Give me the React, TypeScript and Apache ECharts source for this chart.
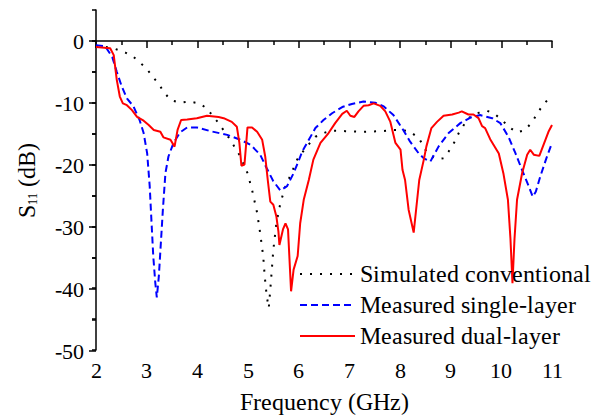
import React, { useEffect, useRef } from "react";
import * as echarts from "echarts";

const FONT = "RefSerif, Liberation Serif, DejaVu Serif, serif";
const FONT_CSS = `@font-face { font-family: "RefSerif"; src: local("Liberation Serif"), local("LiberationSerif"), local("LiberationSerif-Regular"), local("Times New Roman"), local("DejaVu Serif"), local("DejaVuSerif"); }`;

const seriesNames = ["Simulated conventional", "Measured single-layer", "Measured dual-layer"];

const simFreq = [2.0, 2.2, 2.38, 2.58, 2.74, 2.87, 3.01, 3.12, 3.24, 3.35, 3.48, 3.66, 3.85, 4.03, 4.19, 4.29, 4.42, 4.65, 4.85, 4.99, 5.08, 5.18, 5.24, 5.3, 5.33, 5.37, 5.41, 5.44, 5.47, 5.5, 5.56, 5.64, 5.74, 5.83, 5.97, 6.13, 6.33, 6.53, 6.66, 6.92, 7.25, 7.64, 7.84, 8.04, 8.2, 8.37, 8.5, 8.63, 8.76, 8.86, 8.96, 9.08, 9.16, 9.26, 9.35, 9.52, 9.72, 9.88, 10.01, 10.18, 10.31, 10.47, 10.6, 10.8, 10.95];
const simDb = [-0.8, -1.0, -1.3, -1.9, -2.6, -3.5, -4.6, -5.8, -7.0, -8.4, -9.6, -10.0, -9.8, -10.1, -10.9, -12.0, -13.3, -16.0, -18.7, -21.4, -24.1, -27.8, -31.1, -34.8, -38.1, -41.3, -43.2, -40.2, -37.0, -33.8, -29.5, -26.2, -23.5, -21.9, -19.2, -17.4, -15.5, -14.8, -14.5, -14.6, -14.7, -14.6, -14.4, -14.4, -14.7, -15.7, -17.6, -18.7, -19.1, -19.0, -17.9, -16.3, -14.9, -13.6, -12.5, -11.7, -11.3, -11.9, -12.8, -14.1, -14.8, -14.4, -13.2, -10.6, -9.2];

const singleFreq = [2.0, 2.18, 2.32, 2.41, 2.51, 2.61, 2.74, 2.86, 2.94, 3.01, 3.06, 3.09, 3.13, 3.17, 3.2, 3.24, 3.28, 3.32, 3.37, 3.43, 3.53, 3.66, 3.8, 3.99, 4.26, 4.59, 4.85, 5.05, 5.24, 5.37, 5.5, 5.64, 5.77, 5.9, 6.0, 6.07, 6.2, 6.33, 6.49, 6.66, 6.86, 7.05, 7.28, 7.51, 7.68, 7.87, 8.04, 8.2, 8.37, 8.47, 8.6, 8.76, 8.96, 9.19, 9.39, 9.58, 9.82, 9.98, 10.14, 10.28, 10.41, 10.54, 10.62, 10.68, 10.77, 10.88, 11.0];
const singleDb = [-0.7, -0.85, -2.6, -5.0, -7.4, -9.3, -10.6, -12.8, -14.9, -18.2, -23.5, -28.4, -34.8, -39.1, -41.5, -38.1, -32.7, -27.3, -21.4, -18.7, -16.5, -14.8, -14.0, -14.0, -14.6, -15.2, -16.0, -16.8, -18.4, -20.6, -22.7, -24.2, -23.5, -21.4, -19.4, -17.9, -16.0, -14.1, -12.8, -11.7, -10.7, -10.2, -9.8, -10.0, -10.6, -12.0, -14.1, -16.3, -18.2, -19.0, -19.5, -17.1, -14.9, -13.3, -12.4, -12.0, -12.5, -13.3, -15.5, -18.2, -20.9, -23.5, -25.2, -24.4, -21.9, -19.2, -16.5];

const dualFreq = [2.0, 2.28, 2.35, 2.41, 2.47, 2.53, 2.61, 2.71, 2.81, 2.94, 3.04, 3.14, 3.27, 3.33, 3.47, 3.55, 3.61, 3.68, 3.8, 3.99, 4.19, 4.42, 4.52, 4.68, 4.78, 4.83, 4.87, 4.93, 4.97, 4.99, 5.08, 5.18, 5.28, 5.34, 5.39, 5.44, 5.5, 5.56, 5.6, 5.62, 5.69, 5.74, 5.79, 5.85, 5.9, 5.98, 6.03, 6.1, 6.2, 6.29, 6.43, 6.59, 6.72, 6.86, 6.95, 7.02, 7.1, 7.18, 7.28, 7.38, 7.48, 7.61, 7.71, 7.81, 7.91, 8.01, 8.05, 8.1, 8.17, 8.27, 8.38, 8.47, 8.52, 8.62, 8.73, 8.86, 9.03, 9.16, 9.22, 9.35, 9.45, 9.55, 9.62, 9.68, 9.78, 9.95, 10.04, 10.13, 10.18, 10.22, 10.26, 10.31, 10.41, 10.51, 10.57, 10.64, 10.75, 10.87, 10.93, 11.0];
const dualDb = [-1.0, -1.2, -2.3, -6.3, -9.0, -10.1, -10.4, -11.2, -12.3, -12.9, -13.6, -14.4, -14.7, -15.6, -16.0, -17.1, -14.4, -12.8, -12.7, -12.5, -12.1, -12.3, -12.5, -13.1, -13.9, -16.5, -20.2, -20.0, -16.0, -14.0, -14.0, -14.7, -16.0, -18.7, -22.5, -26.0, -26.5, -28.4, -30.8, -33.0, -30.5, -29.5, -30.5, -40.5, -37.0, -34.8, -29.5, -25.7, -22.5, -19.2, -16.5, -14.9, -13.3, -11.8, -11.3, -12.1, -12.3, -11.4, -10.5, -10.4, -10.1, -10.5, -11.4, -13.1, -16.5, -17.6, -20.9, -22.5, -27.3, -31.0, -22.5, -19.2, -17.1, -14.1, -13.1, -12.1, -11.9, -11.6, -11.4, -11.9, -11.9, -12.5, -13.8, -14.1, -15.9, -18.2, -21.4, -25.7, -32.0, -39.2, -32.0, -25.7, -21.4, -18.4, -17.6, -18.4, -18.6, -16.0, -14.7, -13.6];

const xMin = 2;
const xMax = 11;
const yMin = -50;
const yMax = 5;
const yLabelMax = 0;

const pairs = (xs: number[], ys: number[]) => xs.map((x, i) => [x, ys[i]]);

export default function App() {
  const ref = useRef<HTMLDivElement>(null);
  useEffect(() => {
    document.body.style.margin = "0";
    const styleEl = document.createElement("style");
    styleEl.textContent = FONT_CSS;
    document.head.appendChild(styleEl);
    if (!ref.current) return;
    const chart = echarts.init(ref.current, undefined, { renderer: "svg" });
    const axisLine = { show: true, lineStyle: { color: "#000", width: 1.5 } };
    const label = { color: "#000", fontFamily: FONT, fontSize: 22 };
    chart.setOption({
      animation: false,
      backgroundColor: "#fff",
      textStyle: { fontFamily: FONT },
      grid: [
        { left: 96, right: 43, top: 10, bottom: 68 },
        { left: 96, right: 43, top: 41, bottom: 68 },
      ],
      xAxis: [
        {
          type: "value",
          gridIndex: 0,
          min: xMin,
          max: xMax,
          interval: 1,
          axisLine,
          axisTick: { show: true, inside: false, length: 7, lineStyle: { color: "#000", width: 1.5 } },
          minorTick: { show: true, splitNumber: 2, length: 4, lineStyle: { color: "#000", width: 1.5 } },
          splitLine: { show: false },
          axisLabel: { ...label, margin: 9 },
          name: "Frequency (GHz)",
          nameLocation: "middle",
          nameGap: 40,
          nameTextStyle: { color: "#000", fontFamily: FONT, fontSize: 23.5 },
        },
        {
          type: "value",
          gridIndex: 1,
          min: xMin,
          max: xMax,
          show: false,
        },
      ],
      yAxis: [
        {
          type: "value",
          gridIndex: 0,
          min: yMin,
          max: yMax,
          interval: 5,
          axisLine,
          axisTick: { show: true, length: 4, lineStyle: { color: "#000", width: 1.5 } },
          splitLine: { show: false },
          axisLabel: { show: false },
          name: "{a|S}{b|11}{a| (dB)}",
          nameLocation: "middle",
          nameGap: 57,
          nameTextStyle: {
            color: "#000",
            fontFamily: FONT,
            fontSize: 23.5,
            rich: {
              a: { fontFamily: FONT, fontSize: 23.5, color: "#000" },
              b: { fontFamily: FONT, fontSize: 12, color: "#000", verticalAlign: "bottom" },
            },
          },
        },
        {
          type: "value",
          gridIndex: 1,
          min: yMin,
          max: yLabelMax,
          interval: 10,
          axisLine: { show: false },
          axisTick: { show: true, length: 7, lineStyle: { color: "#000", width: 1.5 } },
          minorTick: { show: true, splitNumber: 2, length: 4, lineStyle: { color: "#000", width: 1.5 } },
          splitLine: { show: false },
          axisLabel: { ...label, margin: 12 },
        },
      ],
      legend: {
        orient: "vertical",
        left: 299,
        top: 262,
        padding: 0,
        itemWidth: 55,
        itemHeight: 14,
        itemGap: 7,
        itemStyle: { opacity: 0 },
        textStyle: { color: "#000", fontFamily: FONT, fontSize: 23.5 },
        data: seriesNames,
      },
      series: [
        {
          name: seriesNames[0],
          type: "line",
          xAxisIndex: 0,
          yAxisIndex: 0,
          symbol: "none",
          data: pairs(simFreq, simDb),
          lineStyle: { color: "#000", width: 2, type: [2, 8] },
          itemStyle: { color: "#000" },
        },
        {
          name: seriesNames[1],
          type: "line",
          xAxisIndex: 0,
          yAxisIndex: 0,
          symbol: "none",
          data: pairs(singleFreq, singleDb),
          lineStyle: { color: "#0000ff", width: 2, type: [7, 4] },
          itemStyle: { color: "#0000ff" },
        },
        {
          name: seriesNames[2],
          type: "line",
          xAxisIndex: 0,
          yAxisIndex: 0,
          symbol: "none",
          data: pairs(dualFreq, dualDb),
          lineStyle: { color: "#ff0000", width: 2, type: "solid" },
          itemStyle: { color: "#ff0000" },
        },
      ],
    });
    return () => {
      chart.dispose();
      styleEl.remove();
    };
  }, []);
  return <div ref={ref} style={{ width: 595, height: 419 }} />;
}
